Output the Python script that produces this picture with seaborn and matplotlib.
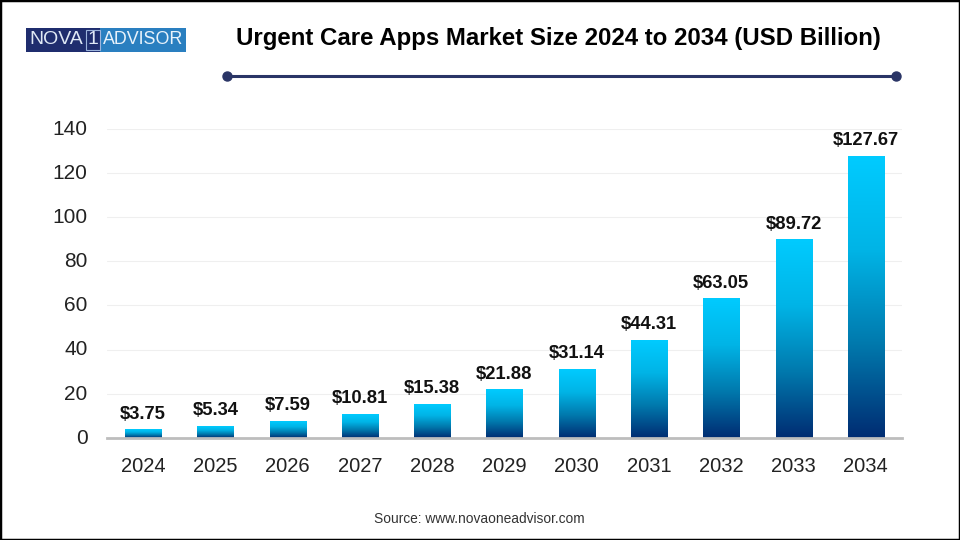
import numpy as np
import pandas as pd
import seaborn as sns
from matplotlib import pyplot as plt
from matplotlib.colors import LinearSegmentedColormap
from matplotlib.patches import Rectangle
from matplotlib.lines import Line2D
from matplotlib.transforms import ScaledTranslation

years = ['2024', '2025', '2026', '2027', '2028', '2029', '2030', '2031', '2032', '2033', '2034']
market_size = [3.75, 5.34, 7.59, 10.81, 15.38, 21.88, 31.14, 44.31, 63.05, 89.72, 127.67]
y_ticks = [0, 20, 40, 60, 80, 100, 120, 140]

title = 'Urgent Care Apps Market Size 2024 to 2034 (USD Billion)'
source = 'Source: www.novaoneadvisor.com'

sns.set_theme(style='white')
plt.rcParams['font.family'] = ['Liberation Sans', 'DejaVu Sans']

W, H = 960, 540
fig = plt.figure(figsize=(9.6, 5.4), dpi=100, facecolor='white')
ax = fig.add_axes([107 / W, 1 - 438 / H, (902 - 107) / W, (438 - 128.8) / H])

df = pd.DataFrame({'year': years, 'size': market_size})
sns.barplot(data=df, x='year', y='size', width=0.5, color='#00c8ff', ax=ax, zorder=2)

ax.set_xlim(-0.5, 10.5)
ax.set_ylim(0, 140)
ax.set_yticks(y_ticks)
ax.set_xlabel('')
ax.set_ylabel('')
ax.grid(axis='y', color='#efefef', lw=0.8, zorder=0)
ax.set_axisbelow(True)
sns.despine(ax=ax, left=True, top=True, right=True)
ax.spines['bottom'].set_color('#bdbdbd')
ax.spines['bottom'].set_linewidth(2)
ax.tick_params(axis='both', length=0, labelcolor='#222222')
ax.tick_params(axis='x', pad=14, labelsize=14.5)
ax.tick_params(axis='y', pad=14, labelsize=15)

# each bar gets its own top to bottom gradient
cmap = LinearSegmentedColormap.from_list('bar', ['#00cbff', '#00b4e6', '#0079ad', '#002c72'])
grad = np.linspace(0, 1, 256).reshape(-1, 1)
for bar, val in zip(ax.patches, market_size):
    x0, w = bar.get_x(), bar.get_width()
    bar.set_visible(False)
    ax.imshow(grad, cmap=cmap, aspect='auto', zorder=2, extent=(x0, x0 + w, 0, val))
    ax.annotate(f'${val:.2f}', (x0 + w / 2, val), xytext=(0, 5), textcoords='offset points',
                ha='center', va='bottom', fontsize=13.2, fontweight='bold', color='#111111')
ax.set_xlim(-0.5, 10.5)
ax.set_ylim(0, 140)

# y labels sit a little above their gridlines
nudge = ScaledTranslation(0, 1.2 / 72, fig.dpi_scale_trans)
for lab in ax.get_yticklabels():
    lab.set_transform(lab.get_transform() + nudge)

fig.text(558.5 / W, 1 - 38 / H, title, ha='center', va='center', fontsize=17.25, fontweight='bold', color='black')
fig.text(479.5 / W, 1 - 519 / H, source, ha='center', va='center', fontsize=9.95, color='#333333')

# rule under the title
fig.add_artist(Line2D([227 / W, 896 / W], [1 - 76 / H] * 2, color='#2a3566', lw=2.2,
                      marker='o', markersize=6.5, markevery=[0, 1]))

# logo
fig.add_artist(Rectangle((26 / W, 1 - 51.7 / H), 74 / W, 24 / H, transform=fig.transFigure, color='#1f2d6e', lw=0))
fig.add_artist(Rectangle((100 / W, 1 - 51.7 / H), 86 / W, 24 / H, transform=fig.transFigure, color='#2a7fc0', lw=0))
fig.add_artist(Rectangle((85.5 / W, 1 - 49.7 / H), 14 / W, 20 / H, transform=fig.transFigure,
                         fill=False, ec='#9db4dc', lw=0.8))
fig.text(29 / W, 1 - 40 / H, 'NOVA', ha='left', va='center', fontsize=14, color='#dfe8f5')
fig.text(92.5 / W, 1 - 40 / H, '1', ha='center', va='center', fontsize=14, color='#dfe8f5')
fig.text(103 / W, 1 - 40 / H, 'ADVISOR', ha='left', va='center', fontsize=12.9, color='#e8f2fb')

# black frame around the picture
fig.add_artist(Rectangle((0, 0), 1, 1, transform=fig.transFigure, fill=False, ec='black', lw=2.5))

fig.savefig('out.png', dpi=100)
